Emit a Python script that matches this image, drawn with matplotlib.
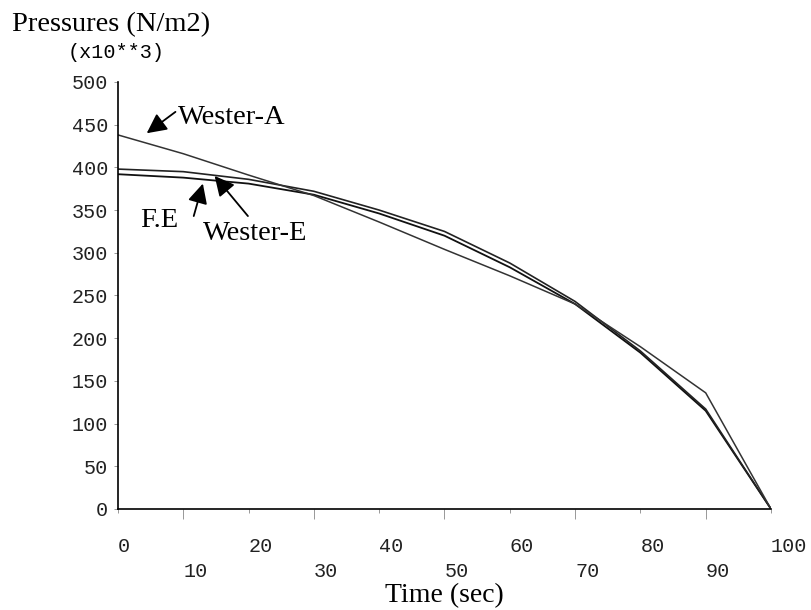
import numpy as np
import matplotlib
matplotlib.use('Agg')
import matplotlib.pyplot as plt

# time axis (sec) and pressures (x10**3 N/m2)
time_sec = [0, 10, 20, 30, 40, 50, 60, 70, 80, 90, 100]
wester_a = [438, 416, 391, 367, 336, 304, 273, 240, 190, 136, 0]
wester_e = [398, 395, 386, 372, 350, 325, 288, 243, 185, 117, 0]
fe = [392, 388, 381, 368, 346, 320, 283, 240, 183, 115, 0]

y_ticks = [0, 50, 100, 150, 200, 250, 300, 350, 400, 450, 500]
x_major = [0, 20, 40, 60, 80, 100]
x_minor = [10, 30, 50, 70, 90]

serif = 'Liberation Serif'
mono = 'Liberation Mono'

fig = plt.figure(figsize=(8.12, 6.10), dpi=100)
ax = fig.add_axes([0.1453, 0.1656, 0.8042, 0.7])

ax.plot(time_sec, fe, color='#111111', lw=1.3)
ax.plot(time_sec, wester_e, color='#222222', lw=1.2)
ax.plot(time_sec, wester_a, color='#333333', lw=1.1)

ax.set_xlim(0, 100)
ax.set_ylim(0, 500)
ax.spines['top'].set_visible(False)
ax.spines['right'].set_visible(False)
ax.spines['left'].set_linewidth(1.2)
ax.spines['bottom'].set_linewidth(1.2)

ax.set_yticks(y_ticks)
ax.set_yticklabels([str(v) for v in y_ticks], fontfamily=mono, fontsize=14.5, color='#222222')
ax.tick_params(axis='y', length=3, width=0.6, color='#888888', pad=4)

ax.set_xticks(x_major)
ax.set_xticklabels([str(v) for v in x_major], fontfamily=mono, fontsize=14.5, color='#222222', ha='left')
ax.set_xticks(x_minor, minor=True)
ax.set_xticklabels([str(v) for v in x_minor], minor=True, fontfamily=mono, fontsize=14.5, color='#222222', ha='left')
ax.tick_params(axis='x', which='major', length=3, width=0.6, color='#888888', pad=17)
ax.tick_params(axis='x', which='minor', length=7, width=0.6, color='#888888', pad=31)

ax.set_xlabel('Time (sec)', fontfamily=serif, fontsize=20, labelpad=2)

fig.text(0.015, 1 - 31 / 610.0, 'Pressures (N/m2)', fontfamily=serif, fontsize=20.5, va='baseline')
fig.text(116 / 812.0, 1 - 52 / 610.0, '(x10**3)', fontfamily=mono, fontsize=14.5, ha='center', va='center')

# labels with arrows
arrow = dict(arrowstyle='-|>', mutation_scale=30, color='black', lw=1.3, shrinkA=0, shrinkB=0)
ax.text(9.2, 458, 'Wester-A', fontfamily=serif, fontsize=20.5, va='center')
ax.annotate('', xy=(4.4, 440), xytext=(8.8, 465), arrowprops=arrow)
ax.text(3.4, 338, 'F.E', fontfamily=serif, fontsize=20.5, va='center')
ax.annotate('', xy=(13.0, 381), xytext=(11.6, 343), arrowprops=arrow)
ax.text(13.0, 322, 'Wester-E', fontfamily=serif, fontsize=20.5, va='center')
ax.annotate('', xy=(14.8, 390), xytext=(19.9, 343), arrowprops=arrow)

plt.savefig('out.png', dpi=100)
plt.close()
